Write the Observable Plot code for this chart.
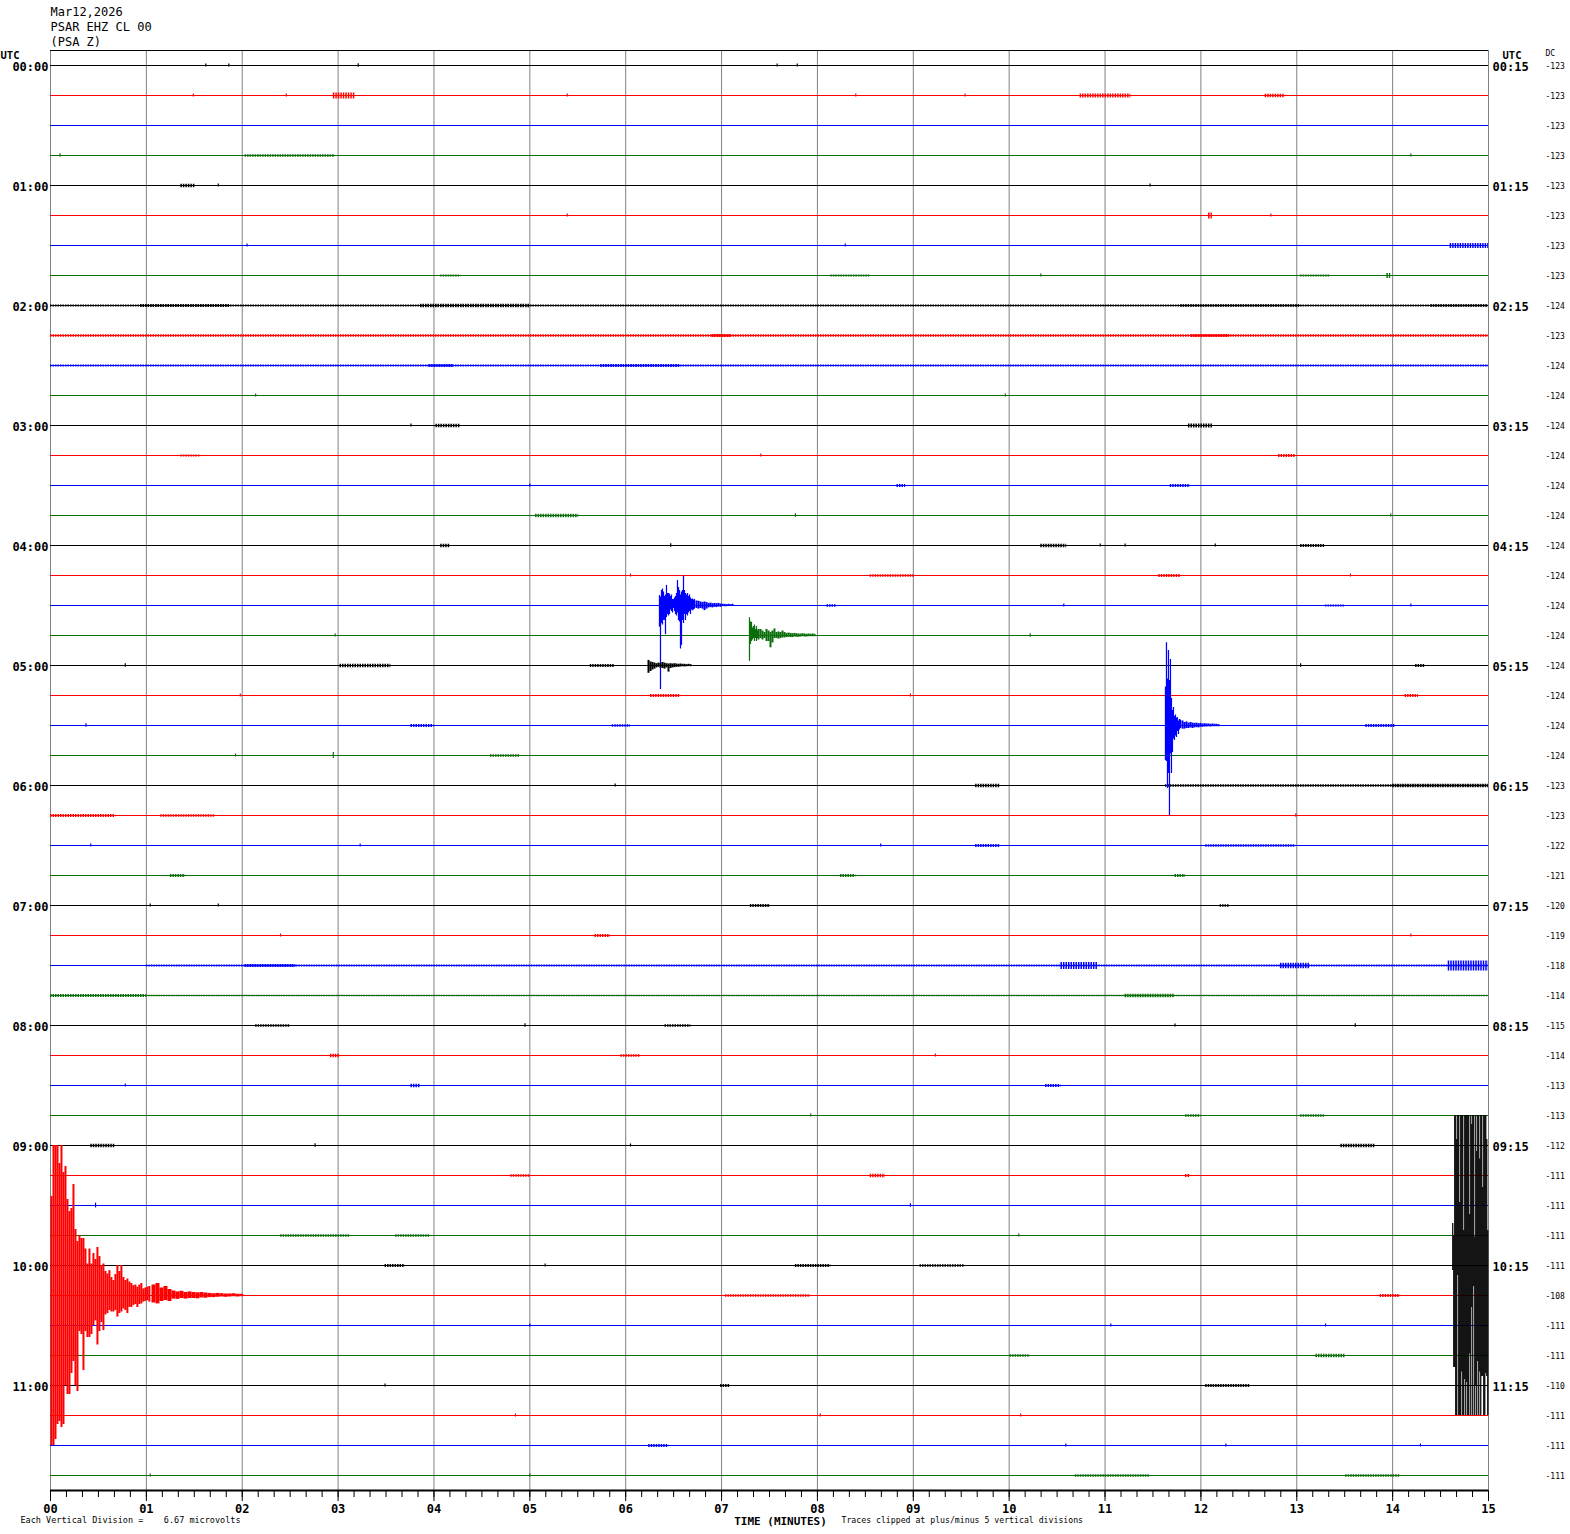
<!DOCTYPE html>
<html><head><meta charset="utf-8">
<script src="https://cdn.jsdelivr.net/npm/d3@7"></script>
<script src="https://cdn.jsdelivr.net/npm/@observablehq/plot@0.6"></script>
<style>
body{margin:0;background:#fff}
svg{display:block}
svg text{white-space:pre}
</style>
</head><body><div id="chart"></div>
<script>
// ---------- header / labels ----------
const stationLines = ["Mar12,2026", "PSAR EHZ CL 00", "(PSA Z)"];
const traceColors = ["#000000", "#ff0000", "#0000ff", "#0a6e0a"];
const leftLabels = ["00:00","01:00","02:00","03:00","04:00","05:00","06:00","07:00","08:00","09:00","10:00","11:00"];
const rightLabels = ["00:15","01:15","02:15","03:15","04:15","05:15","06:15","07:15","08:15","09:15","10:15","11:15"];
const dcValues = [-123,-123,-123,-123,-123,-123,-123,-123,
  -124,-123,-124,-124,-124,-124,-124,-124,-124,-124,-124,-124,-124,-124,-124,-124,
  -123,-123,-122,-121,-120,-119,-118,-114,-115,-114,-113,-113,-112,-111,-111,-111,
  -111,-108,-111,-111,-110,-111,-111,-111];
const minuteTicks = [0,1,2,3,4,5,6,7,8,9,10,11,12,13,14,15];
const minuteLabels = ["00","01","02","03","04","05","06","07","08","09","10","11","12","13","14","15"];
const secondsPerMinorTick = 10;
const captionLeft = "Each Vertical Division =    6.67 microvolts";
const captionAxis = "TIME (MINUTES)";
const captionRight = "Traces clipped at plus/minus 5 vertical divisions";
const clipDivisions = 5;

// ---------- noise bands: [row, startMin, endMin, amplitude(div)] ----------
const bursts = [
  [1,2.95,3.18,0.10],[1,10.74,11.27,0.07],[1,12.67,12.88,0.06],
  [3,2.03,2.97,0.04],[4,1.36,1.51,0.06],[5,12.08,12.12,0.10],[6,14.6,15.0,0.08],
  [7,4.07,4.28,0.035],[7,8.14,8.55,0.035],[7,13.04,13.35,0.035],[7,13.94,13.98,0.08],
  [8,0.0,15.0,0.03],[8,0.94,1.88,0.05],[8,3.86,5.0,0.06],[8,11.79,13.04,0.045],[8,14.4,15.0,0.045],
  [9,0.0,15.0,0.04],[9,6.9,7.1,0.05],[9,11.9,12.3,0.05],
  [10,0.0,15.0,0.035],[10,3.95,4.2,0.05],[10,5.74,6.57,0.05],
  [12,4.02,4.28,0.06],[12,11.87,12.13,0.07],
  [13,1.36,1.56,0.03],[13,12.81,12.99,0.05],
  [14,8.83,8.92,0.05],[14,11.68,11.89,0.05],
  [15,5.06,5.51,0.06],
  [16,4.07,4.17,0.06],[16,10.33,10.6,0.06],[16,13.04,13.3,0.05],
  [17,8.55,9.02,0.04],[17,11.56,11.79,0.05],
  [18,8.1,8.2,0.04],[18,13.3,13.5,0.035],
  [20,3.02,3.55,0.06],[20,5.63,5.89,0.05],[20,14.24,14.34,0.05],
  [21,6.26,6.57,0.05],[21,14.13,14.27,0.05],
  [22,3.76,4.0,0.05],[22,5.86,6.05,0.04],[22,13.72,14.03,0.05],
  [23,4.59,4.9,0.04],
  [24,9.65,9.91,0.06],[24,11.63,15.0,0.045],[24,14.0,15.0,0.06],
  [25,0.0,0.68,0.05],[25,1.15,1.72,0.04],
  [26,9.65,9.91,0.05],[26,12.05,12.99,0.04],
  [27,1.25,1.41,0.05],[27,8.24,8.4,0.05],[27,11.73,11.84,0.05],
  [28,7.3,7.51,0.05],[28,12.2,12.3,0.04],
  [29,5.68,5.84,0.05],
  [30,1.0,15.0,0.035],[30,2.03,2.56,0.05],[30,10.54,10.93,0.12],[30,12.83,13.14,0.09],[30,14.58,15.0,0.17],
  [31,0.0,1.0,0.05],[31,1.0,15.0,0.025],[31,11.21,11.73,0.06],
  [32,2.14,2.5,0.04],[32,6.41,6.68,0.04],
  [33,2.92,3.02,0.06],[33,5.95,6.15,0.04],
  [34,3.76,3.86,0.06],[34,10.38,10.54,0.05],
  [35,11.84,12.0,0.04],[35,13.04,13.3,0.04],
  [36,0.42,0.68,0.06],[36,13.46,13.82,0.06],
  [37,4.8,5.0,0.04],[37,8.55,8.71,0.06],[37,11.84,11.89,0.05],
  [39,2.4,3.13,0.04],[39,3.6,3.96,0.04],
  [40,3.49,3.7,0.05],[40,7.77,8.14,0.05],[40,9.07,9.54,0.04],
  [41,7.04,7.93,0.04],[41,13.87,14.08,0.05],
  [43,10.01,10.22,0.04],[43,13.2,13.51,0.06],
  [44,6.99,7.09,0.05],[44,12.05,12.52,0.05],
  [46,6.24,6.45,0.05],
  [47,10.69,11.47,0.04],[47,13.51,14.08,0.04]
];

// ---------- isolated blips: [row, minute, amplitude(div)] ----------
const blips = [
  [0,1.62,0.05],[0,1.86,0.05],[0,3.21,0.06],[0,7.58,0.05],[0,7.79,0.05],
  [1,1.49,0.05],[1,2.46,0.05],[1,5.39,0.05],[1,8.4,0.05],[1,9.54,0.05],
  [3,0.1,0.06],[3,14.19,0.05],[4,1.75,0.05],[4,11.47,0.05],
  [5,5.39,0.05],[5,12.73,0.05],[6,2.05,0.05],[6,8.29,0.05],[7,10.33,0.05],
  [11,2.14,0.05],[11,9.96,0.05],[12,3.76,0.05],[13,7.41,0.05],[14,5.0,0.05],
  [15,7.77,0.06],[15,13.98,0.05],
  [16,6.47,0.06],[16,10.95,0.05],[16,11.21,0.05],[16,12.15,0.05],
  [17,6.05,0.05],[17,13.56,0.05],
  [18,10.57,0.05],[18,14.19,0.05],
  [19,10.22,0.06],[19,2.97,0.05],
  [20,0.78,0.06],[20,13.04,0.06],
  [21,1.98,0.05],[21,8.97,0.05],
  [22,0.37,0.06],
  [23,2.95,0.1],[23,1.93,0.05],
  [24,5.89,0.05],[25,12.99,0.06],
  [26,0.42,0.05],[26,3.23,0.05],[26,8.66,0.05],
  [28,1.04,0.05],[28,1.75,0.05],
  [29,2.4,0.05],[29,14.19,0.05],
  [32,4.95,0.06],[32,13.61,0.06],[32,11.73,0.05],
  [33,9.23,0.05],[34,0.78,0.05],[35,7.93,0.05],
  [36,2.76,0.06],[36,6.05,0.05],
  [38,0.47,0.08],[38,8.97,0.06],
  [39,10.1,0.05],[40,5.16,0.05],
  [42,5.0,0.05],[42,11.06,0.05],[42,13.3,0.05],
  [44,3.49,0.05],
  [45,4.85,0.05],[45,8.03,0.05],[45,10.12,0.05],
  [46,10.59,0.05],[46,12.26,0.05],[46,14.29,0.05],
  [47,1.04,0.05],[47,5.0,0.05]
];

// ---------- earthquake envelopes: [up, down] in vertical divisions ----------
const eqBlue0430 = [[0.33,-0.72],[0.28,-2.8],[0.5,-0.6],[0.55,-0.65],[0.45,-0.5],[0.3,-0.5],[0.35,-0.97],[0.67,-0.4],
  [0.4,-0.3],[0.4,-0.35],[0.38,-0.3],[0.3,-0.15],[0.35,-0.2],[0.2,-0.25],[0.2,-0.1],[0.25,-0.2],[0.3,-0.3],[0.4,-0.35],
  [0.83,-0.25],[0.6,-0.5],[0.5,-0.55],[0.35,-1.45],[0.45,-1.33],[0.5,-0.5],[0.98,-0.6],[0.5,-0.3],[0.4,-0.5],[0.35,-0.3],
  [0.4,-0.35],[0.3,-0.25],[0.35,-0.2],[0.25,-0.3],[0.2,-0.15],[0.22,-0.18],[0.18,-0.15],[0.2,-0.12]];
const eqBlue0430Tail = [[0.15,-0.1],[0.14,-0.12],[0.12,-0.1],[0.1,-0.12],[0.12,-0.17],[0.1,-0.12],[0.07,-0.08],[0.08,-0.07],
  [0.06,-0.08],[0.07,-0.06],[0.06,-0.07],[0.07,-0.05],[0.05,-0.06],[0.04,-0.03],[0.04,-0.04],[0.03,-0.04],[0.04,-0.03],[0.03,-0.03],[0.04,-0.03]];
const eqGreen0445 = [[0.59,-0.86],[0.45,-0.3],[0.44,-0.2],[0.25,-0.15],[0.3,-0.1],[0.35,-0.2],[0.2,-0.1],[0.3,-0.2],[0.15,-0.1]];
const eqGreen0445Tail = [[0.2,-0.15],[0.2,-0.1],[0.15,-0.15],[0.1,-0.1],[0.2,-0.2],[0.15,-0.2],[0.1,-0.41],[0.15,-0.25],
  [0.22,-0.1],[0.1,-0.1],[0.12,-0.12],[0.1,-0.1],[0.15,-0.08],[0.1,-0.08],[0.07,-0.07],[0.08,-0.06],[0.07,-0.07],[0.06,-0.07],
  [0.07,-0.05],[0.06,-0.06],[0.05,-0.06],[0.05,-0.05],[0.06,-0.04],[0.05,-0.05],[0.04,-0.05],[0.05,-0.04],[0.04,-0.04],[0.05,-0.04],[0.04,-0.04]];
const eqBlack0500 = [[0.17,-0.26],[0.12,-0.2],[0.1,-0.15],[0.08,-0.12],[0.06,-0.08],[0.08,-0.06],[0.07,-0.09],[0.1,-0.1],
  [0.08,-0.12],[0.06,-0.08],[0.05,-0.22],[0.06,-0.1],[0.05,-0.08],[0.06,-0.07],[0.05,-0.06],[0.04,-0.06],[0.05,-0.05],
  [0.04,-0.04],[0.04,-0.05],[0.03,-0.04],[0.04,-0.03],[0.03,-0.04]];
const eqBlue0530 = [[1.28,-1.17],[2.76,-1.2],[1.55,-2.1],[2.5,-1.6],[1.5,-3.0],[2.2,-0.95],[0.9,-1.6],[0.5,-0.9],
  [0.6,-0.45],[0.3,-0.5],[0.35,-0.35],[0.25,-0.4],[0.26,-0.2],[0.15,-0.3],[0.2,-0.15],[0.18,-0.1]];
const eqBlue0530Tail = [[0.15,-0.12],[0.1,-0.12],[0.12,-0.1],[0.08,-0.1],[0.1,-0.08],[0.08,-0.1],[0.07,-0.08],[0.08,-0.07],
  [0.06,-0.08],[0.07,-0.06],[0.05,-0.06],[0.06,-0.05],[0.05,-0.05],[0.05,-0.04],[0.04,-0.05],[0.05,-0.04],[0.04,-0.04],[0.04,-0.04],[0.03,-0.04]];
const eqBlack1000 = [[1.4,-0.17],[1.0,-3.4],[5,-3.4],[5,-5],[4.2,-5],[5,-0.33],[5,-5],[2.1,-5],[5,-5],[5,-3.55],[5,-5],
  [1.17,-5],[5,-3.8],[5,-5],[5,-3.9],[5,-5],[5,-5],[1.7,-2.95],[5,-5],[4.7,-1.4],[5,-5],[5,-0.7],[0.95,-5],[5,-4.0],
  [3.8,-5],[5,-3.2],[5,-5],[3.55,-3.55],[5,-5],[5,-3.7],[2.6,-3.7],[5,-5],[5,-5],[5,-3.6],[4.2,-3.7],[1.17,-5]];
const eqRed1015 = [[3.3,-5],[5,-5],[5,-4.8],[5,-4.3],[4.4,-4.2],[5,-4.4],[4.1,-4.3],[4.3,-3.0],[3.2,-3.3],[2.8,-3.3],
  [2.9,-2.6],[3.7,-2.2],[2.2,-3.0],[1.8,-3.2],[2.0,-1.2],[1.9,-1.3],[1.9,-2.5],[1.55,-1.2],[1.05,-1.4],[1.55,-1.4],
  [1.05,-1.3],[1.4,-1.0],[1.2,-0.85],[1.6,-1.65],[1.3,-1.2],[1.0,-0.9],[1.05,-1.17],[0.8,-0.65],[0.72,-0.6],[0.83,-0.5],
  [0.6,-0.55],[0.5,-0.55],[0.7,-0.5],[1.0,-0.72],[0.8,-0.6],[1.0,-0.55],[0.6,-0.45],[0.5,-0.5],[0.55,-0.6],[0.45,-0.4],
  [0.4,-0.4],[0.33,-0.33],[0.35,-0.3],[0.28,-0.4],[0.35,-0.3],[0.4,-0.28],[0.22,-0.22],[0.25,-0.2],[0.28,-0.17],[0.3,-0.22]];
const eqRed1015Tail = [[0.35,-0.25],[0.4,-0.28],[0.25,-0.2],[0.3,-0.17],[0.2,-0.2],[0.15,-0.12],[0.12,-0.13],[0.14,-0.1],
  [0.1,-0.12],[0.12,-0.1],[0.1,-0.1],[0.09,-0.11],[0.1,-0.08],[0.08,-0.09],[0.07,-0.07],[0.06,-0.07],[0.07,-0.06],
  [0.06,-0.05],[0.05,-0.06],[0.05,-0.05],[0.06,-0.04],[0.04,-0.05],[0.04,-0.04]];

const events = [
  {row:18, t0:6.3524, dt:0.626, env:eqBlue0430},
  {row:18, t0:6.7384, dt:1.252, env:eqBlue0430Tail},
  {row:19, t0:7.2912, dt:0.626, env:eqGreen0445},
  {row:19, t0:7.3851, dt:1.252, env:eqGreen0445Tail},
  {row:20, t0:6.2377, dt:1.252, env:eqBlack0500},
  {row:22, t0:11.6304, dt:0.626, env:eqBlue0530},
  {row:22, t0:11.8077, dt:1.252, env:eqBlue0530Tail},
  {row:40, t0:14.6271, dt:0.626, env:eqBlack1000},
  {row:41, t0:0.0104, dt:1.25, env:eqRed1015},
  {row:41, t0:1.0744, dt:2.5, env:eqRed1015Tail}
];

// ---------- build ----------
const rows = d3.range(dcValues.length);
const colorOf = r => traceColors[r % 4];
const font = "DejaVu Sans Mono";
const pxPerMinute = (1488 - 50) / 15;
const pxPerDivision = 30;

const eventMarks = events.map(e => {
  const recs = e.env.map(([hi, lo], i) => ({
    time: e.t0 + i * e.dt / 60,
    top: e.row - Math.min(hi, clipDivisions),
    bottom: e.row - Math.max(lo, -clipDivisions)
  }));
  const w = e.dt / 60 * pxPerMinute;
  return Plot.ruleX(recs, {x: "time", y1: "top", y2: "bottom", stroke: colorOf(e.row),
    strokeWidth: w < 1.5 ? 1.25 : w});
});

const minorTicks = d3.range(0, 15 * 60 + 1, secondsPerMinorTick).map(s => s / 60);

const chart = Plot.plot({
  width: 1570, height: 1534,
  marginLeft: 50, marginRight: 82, marginTop: 50, marginBottom: 44,
  style: {fontFamily: font, background: "#fff", overflow: "visible"},
  x: {domain: [0, 15], axis: null, label: null},
  y: {domain: [47.5, -0.5], axis: null, label: null},
  marks: [
    Plot.ruleX(minuteTicks, {y1: -0.5, y2: 47.5, stroke: "#808080", strokeWidth: 1}),
    Plot.ruleY([-0.5], {x1: 0, x2: 15, stroke: "#000", strokeWidth: 1}),
    Plot.ruleY(rows, {y: d => d, x1: 0, x2: 15, stroke: d => colorOf(d), strokeWidth: 1}),
    // noise bands (textured)
    Plot.ruleY(bursts, {y: d => d[0], x1: d => d[1], x2: d => d[2], stroke: d => colorOf(d[0]),
      strokeWidth: d => Math.max(1, 2 * d[3] * pxPerDivision), strokeDasharray: "1.5 1"}),
    Plot.ruleX(blips, {x: d => d[1], y1: d => d[0] - d[2], y2: d => d[0] + d[2], stroke: d => colorOf(d[0]), strokeWidth: 1.2}),
    ...eventMarks,
    // bottom axis
    Plot.ruleY([47.5], {x1: 0, x2: 15, stroke: "#000", strokeWidth: 2}),
    Plot.axisX(minorTicks, {anchor: "bottom", label: null, tickSize: 7, tickFormat: () => "", stroke: "#000"}),
    Plot.axisX(minuteTicks, {anchor: "bottom", label: null, tickSize: 11, tickPadding: 2.5, tickFormat: d => minuteLabels[d],
      fontSize: 12, fontWeight: "bold", fontFamily: font, fill: "#000", stroke: "#000"}),
    // left/right time labels
    Plot.text(leftLabels, {x: 0, y: (d, i) => i * 4, text: d => d, textAnchor: "end", dx: -2, dy: 1.5,
      fontSize: 12, fontWeight: "bold", fontFamily: font, fill: "#000"}),
    Plot.text(rightLabels, {x: 15, y: (d, i) => i * 4, text: d => d, textAnchor: "start", dx: 4, dy: 1.5,
      fontSize: 12, fontWeight: "bold", fontFamily: font, fill: "#000"}),
    Plot.text(dcValues, {x: 15, y: (d, i) => i, text: d => String(d), textAnchor: "start", dx: 57, dy: 1,
      fontSize: 8, fontFamily: font, fill: "#000"}),
    Plot.text(["UTC"], {x: 0, y: -0.5, dx: -50, dy: 5, textAnchor: "start", fontSize: 10.5, fontWeight: "bold", fontFamily: font}),
    Plot.text(["UTC"], {x: 15, y: -0.5, dx: 14, dy: 5.5, textAnchor: "start", fontSize: 10.5, fontWeight: "bold", fontFamily: font}),
    Plot.text(["DC"], {x: 15, y: -0.5, dx: 57, dy: 3, textAnchor: "start", fontSize: 8, fontFamily: font}),
    // header
    ...stationLines.map((s, i) => Plot.text([s], {frameAnchor: "top-left", lineAnchor: "middle", text: d => d, dy: -38.5 + 15 * i,
      textAnchor: "start", fontSize: 12, fontFamily: font, fill: "#000"})),
    // footer
    Plot.text([captionLeft], {frameAnchor: "bottom-left", lineAnchor: "middle", text: d => d, dx: -30, dy: 30, textAnchor: "start", fontSize: 8.5, fontFamily: font}),
    Plot.text([captionAxis], {frameAnchor: "bottom", lineAnchor: "middle", text: d => d, dx: 11, dy: 30.5, textAnchor: "middle", fontSize: 11, fontWeight: "bold", fontFamily: font}),
    Plot.text([captionRight], {frameAnchor: "bottom", lineAnchor: "middle", text: d => d, dx: 72, dy: 30, textAnchor: "start", fontSize: 8.2, fontFamily: font})
  ]
});
document.getElementById("chart").appendChild(chart);
</script>
</body></html>
